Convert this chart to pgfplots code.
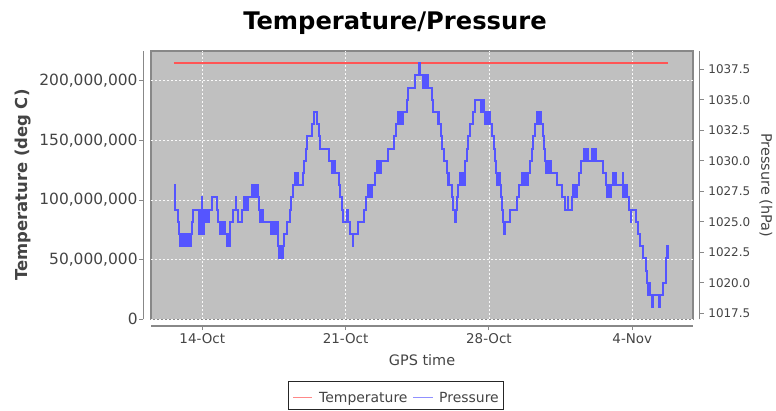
\documentclass[border=0pt]{standalone}
\usepackage{fontspec}
\setmainfont{DejaVu Sans}
\usepackage{pgfplots}
\usepackage{pgfplotstable}
\pgfplotsset{compat=1.18}
\definecolor{bgc}{HTML}{C0C0C0}
\definecolor{tempc}{HTML}{FF5555}
\definecolor{presc}{HTML}{5555FF}
\definecolor{axc}{HTML}{888888}
\definecolor{txc}{HTML}{444444}

% days since 14-Oct 00:00, pressure in hPa
\pgfplotstableread{
d p
-1.382 1028
-1.333 1026
-1.201 1025
-1.138 1024
-1.065 1023
-1.045 1024
-0.943 1023
-0.923 1024
-0.845 1023
-0.825 1024
-0.75 1023
-0.71 1024
-0.67 1023
-0.63 1024
-0.59 1023
-0.55 1024
-0.518 1025
-0.469 1026
-0.15 1024
-0.11 1026
-0.07 1024
-0.03 1027
-0.01 1026
0.01 1024
0.05 1026
0.07 1024
0.098 1026
0.13 1025
0.17 1026
0.21 1025
0.25 1026
0.29 1025
0.327 1026
0.459 1027
0.703 1026
0.752 1025
0.86 1024
0.90 1025
0.94 1024
0.98 1025
1.02 1024
1.06 1025
1.109 1024
1.19 1023
1.23 1024
1.27 1023
1.31 1024
1.33 1023
1.353 1025
1.514 1026
1.646 1027
1.666 1026
1.729 1025
1.924 1026
2.05 1027
2.09 1026
2.13 1027
2.17 1026
2.217 1027
2.41 1028
2.45 1027
2.49 1028
2.53 1027
2.57 1028
2.61 1027
2.65 1028
2.706 1027
2.769 1026
2.82 1025
2.86 1026
2.90 1025
2.94 1026
2.98 1025
3.36 1024
3.40 1025
3.44 1024
3.48 1025
3.52 1024
3.56 1025
3.60 1024
3.64 1025
3.68 1024
3.712 1023
3.75 1022
3.79 1023
3.83 1022
3.87 1023
3.91 1022
3.95 1023
3.990 1024
4.122 1025
4.283 1026
4.332 1027
4.444 1028
4.527 1029
4.547 1028
4.640 1029
4.660 1028
4.903 1029
4.967 1030
5.065 1031
5.099 1032
5.343 1033
5.470 1034
5.616 1033
5.685 1032
5.748 1031
6.202 1030
6.32 1029
6.36 1030
6.40 1029
6.44 1030
6.48 1029
6.676 1028
6.725 1027
6.808 1026
6.857 1025
7.082 1026
7.102 1025
7.213 1024
7.345 1023
7.375 1024
7.619 1025
7.897 1026
7.995 1027
8.11 1028
8.15 1027
8.19 1028
8.23 1027
8.27 1028
8.434 1029
8.55 1030
8.59 1029
8.63 1030
8.67 1029
8.71 1030
9.084 1031
9.362 1032
9.460 1033
9.57 1034
9.61 1033
9.65 1034
9.69 1033
9.73 1034
9.77 1033
9.81 1034
9.982 1035
10.061 1036
10.388 1037
10.598 1038
10.618 1037
10.79 1036
10.83 1037
10.87 1036
10.91 1037
10.95 1036
10.99 1037
11.037 1036
11.203 1035
11.282 1034
11.50 1033
11.54 1034
11.58 1033
11.658 1032
11.721 1031
11.819 1030
11.936 1029
11.99 1028
12.03 1029
12.07 1028
12.180 1027
12.258 1026
12.341 1025
12.371 1026
12.424 1027
12.503 1028
12.59 1029
12.63 1028
12.67 1029
12.71 1028
12.75 1029
12.79 1028
12.83 1030
12.927 1031
12.991 1032
13.074 1033
13.196 1034
13.318 1035
13.61 1034
13.65 1035
13.69 1034
13.73 1035
13.772 1034
13.81 1033
13.85 1034
13.89 1033
13.93 1034
13.97 1033
14.01 1034
14.05 1033
14.163 1032
14.246 1031
14.295 1030
14.344 1029
14.38 1028
14.42 1029
14.46 1028
14.50 1029
14.539 1028
14.588 1027
14.651 1026
14.686 1025
14.749 1024
14.80 1025
15.027 1026
15.355 1027
15.467 1028
15.60 1029
15.64 1028
15.68 1029
15.72 1028
15.76 1029
15.80 1028
15.84 1029
15.88 1028
15.921 1029
16.004 1030
16.087 1031
16.165 1032
16.248 1033
16.33 1034
16.37 1033
16.41 1034
16.45 1033
16.49 1034
16.53 1033
16.654 1032
16.688 1031
16.737 1030
16.79 1029
16.83 1030
16.87 1029
16.91 1030
16.95 1029
16.99 1030
17.03 1029
17.308 1028
17.552 1027
17.713 1026
17.85 1027
17.87 1026
18.041 1027
18.12 1028
18.16 1027
18.20 1028
18.24 1027
18.285 1028
18.412 1029
18.480 1030
18.64 1031
18.68 1030
18.72 1031
18.76 1030
18.80 1031
18.851 1030
19.02 1031
19.06 1030
19.10 1031
19.14 1030
19.18 1031
19.227 1030
19.555 1029
19.716 1028
19.78 1027
19.82 1028
19.86 1027
19.90 1028
19.94 1027
19.98 1028
20.07 1029
20.11 1028
20.15 1029
20.19 1028
20.532 1029
20.55 1028
20.57 1027
20.61 1028
20.65 1027
20.69 1028
20.73 1027
20.825 1026
20.922 1025
20.942 1026
21.181 1025
21.293 1024
21.376 1023
21.538 1022
21.669 1021
21.733 1020
21.79 1019
21.83 1020
21.87 1019
21.977 1018
22.01 1019
22.304 1018
22.334 1019
22.485 1020
22.646 1022
22.68 1023
22.72 1022
22.758 1023
}\pressure

\begin{document}
\begin{tikzpicture}
\path[use as bounding box] (0bp,0bp) rectangle (776bp,411bp);
\node[font=\fontsize{24.3}{28}\selectfont\bfseries, anchor=base] at (395bp,381.5bp) {Temperature/Pressure};

\begin{axis}[
  at={(151bp,91.7bp)}, anchor=south west,
  scale only axis, width=542bp, height=268.3bp,
  xmin=-2.505, xmax=23.965, ymin=0, ymax=225000000,
  axis x line*=bottom, axis y line*=left,
  axis x line shift=6.7bp, axis y line shift=7.7bp,
  axis line style={-, axc, line width=1.2bp},
  axis background/.style={fill=bgc, draw=axc, line width=1.5bp},
  tick align=outside, major tick length=4bp,
  tick style={axc, line width=1bp},
  xtick={0,7,14,21}, xticklabels={14-Oct,21-Oct,28-Oct,4-Nov},
  ytick={0,50000000,100000000,150000000,200000000},
  scaled y ticks=false,
  xticklabel style={font=\fontsize{13.5}{16}\selectfont, text=txc},
  yticklabel style={font=\fontsize{15.5}{18}\selectfont, text=txc, inner sep=1.5bp,
    /pgf/number format/.cd, fixed, 1000 sep={,}, assume math mode=true},
  grid=major,
  major grid style={white!92!bgc, dash pattern=on 2bp off 2bp, line width=0.8bp},
  xlabel={GPS time},
  every axis x label/.style={at={(axis description cs:0.5,-0.174)}, anchor=base,
    font=\fontsize{14.5}{17}\selectfont, text=txc},
  ylabel={Temperature (deg C)},
  every axis y label/.style={at={(axis description cs:-0.236,0.5)}, rotate=90, anchor=center,
    font=\fontsize{16.5}{19}\selectfont\bfseries, text=txc},
]
\addplot[tempc, line width=1.5bp] coordinates {(-1.382,215000000) (22.758,215000000)};
\end{axis}

\begin{axis}[
  at={(151bp,91.7bp)}, anchor=south west,
  scale only axis, width=542bp, height=268.3bp,
  xmin=-2.505, xmax=23.965, ymin=1017, ymax=1039,
  axis x line=none, axis y line*=right,
  axis y line shift=6.7bp,
  axis line style={-, axc, line width=1.2bp},
  tick align=outside, major tick length=4bp,
  tick style={axc, line width=1bp},
  ytick={1017.5,1020,1022.5,1025,1027.5,1030,1032.5,1035,1037.5},
  yticklabel style={font=\fontsize{12}{14}\selectfont, text=txc, inner sep=1.5bp, xshift=3bp,
    /pgf/number format/.cd, fixed, fixed zerofill, precision=1, 1000 sep={}, assume math mode=true},
  ylabel={Pressure (hPa)},
  every axis y label/.style={at={(axis description cs:1.1347,0.5)}, rotate=-90, anchor=center,
    font=\fontsize{14.5}{17}\selectfont, text=txc},
]
\addplot[const plot, presc, line width=2bp] table[x=d, y=p] {\pressure};
\end{axis}

% legend
\draw[black!85, line width=0.8bp, fill=white] (288bp,1.5bp) rectangle (503bp,29.5bp);
\draw[draw=tempc!70!white, line width=1.4bp] (293bp,13.5bp) -- (312bp,13.5bp);
\node[anchor=base west, inner sep=0pt, font=\fontsize{14}{17}\selectfont, text=txc] at (319bp,8.5bp) {Temperature};
\draw[draw=presc!65!white, line width=1.4bp] (413bp,13.5bp) -- (433bp,13.5bp);
\node[anchor=base west, inner sep=0pt, font=\fontsize{14}{17}\selectfont, text=txc] at (439bp,8.5bp) {Pressure};
\end{tikzpicture}
\end{document}
